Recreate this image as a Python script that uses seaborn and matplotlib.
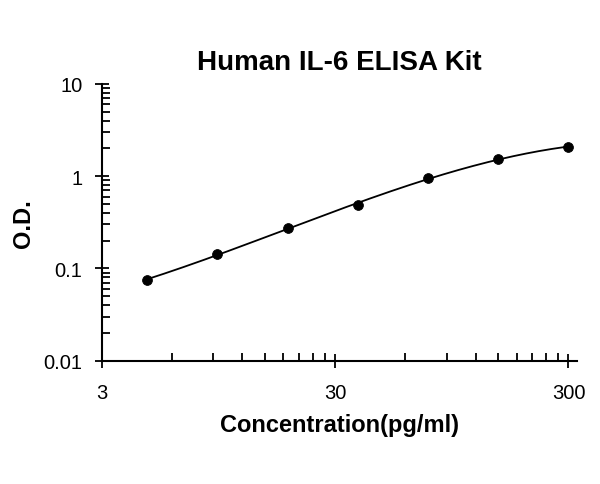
import numpy as np
import pandas as pd
import matplotlib
matplotlib.use("Agg")
import matplotlib.pyplot as plt
import matplotlib.ticker as mticker
import seaborn as sns

# standard curve points
conc = [4.69, 9.38, 18.75, 37.5, 75, 150, 300]
od = [0.076, 0.142, 0.274, 0.49, 0.95, 1.53, 2.08]

title = "Human IL-6 ELISA Kit"
xlabel = "Concentration(pg/ml)"
ylabel = "O.D."
xticks = [3, 30, 300]
yticks = [0.01, 0.1, 1, 10]
ytick_labels = ["0.01", "0.1", "1", "10"]

df = pd.DataFrame({"conc": conc, "od": od})

# smooth fitted curve in log-log space
coef = np.polyfit(np.log10(df["conc"]), np.log10(df["od"]), 3)
lx = np.linspace(np.log10(min(conc)), np.log10(max(conc)), 200)
fit = pd.DataFrame({"conc": 10 ** lx, "od": 10 ** np.polyval(coef, lx)})

sns.set_style("white")
plt.rcParams["font.family"] = ["Liberation Sans", "DejaVu Sans"]
plt.rcParams["text.color"] = "black"
plt.rcParams["axes.labelcolor"] = "black"

fig = plt.figure(figsize=(6, 4.85), dpi=100)
ax = fig.add_axes([0.17, 0.254, 0.792, 0.571])

sns.lineplot(data=fit, x="conc", y="od", color="black", linewidth=1.3, ax=ax)
sns.scatterplot(data=df, x="conc", y="od", color="black", s=50, edgecolor="black", zorder=3, ax=ax)

ax.set_xscale("log")
ax.set_yscale("log")
ax.set_xlim(3, 327)
ax.set_ylim(0.01, 10)

ax.xaxis.set_major_locator(mticker.FixedLocator(xticks))
ax.xaxis.set_major_formatter(mticker.FixedFormatter([str(t) for t in xticks]))
minor_x = [3 * k for k in range(2, 10)] + [30 * k for k in range(2, 10)]
ax.xaxis.set_minor_locator(mticker.FixedLocator(minor_x))
ax.xaxis.set_minor_formatter(mticker.NullFormatter())

ax.yaxis.set_major_locator(mticker.FixedLocator(yticks))
ax.yaxis.set_major_formatter(mticker.FixedFormatter(ytick_labels))
ax.yaxis.set_minor_locator(mticker.LogLocator(base=10, subs=np.arange(2, 10)))
ax.yaxis.set_minor_formatter(mticker.NullFormatter())

ax.tick_params(which="both", bottom=True, left=True, top=False, right=False, colors="black")
ax.tick_params(which="major", direction="inout", length=10, width=1.3, labelsize=14.5)
ax.tick_params(which="minor", direction="in", length=6, width=1.3)
ax.tick_params(axis="x", which="major", pad=11)
ax.tick_params(axis="y", which="major", pad=9)

for s in ["top", "right"]:
    ax.spines[s].set_visible(False)
for s in ["left", "bottom"]:
    ax.spines[s].set_color("black")
    ax.spines[s].set_linewidth(1.5)

ax.set_xlabel(xlabel, fontsize=17, fontweight="bold", labelpad=8, color="black")
ax.set_ylabel(ylabel, fontsize=17, fontweight="bold", labelpad=6, color="black")
ax.set_title(title, fontsize=20, fontweight="bold", pad=11, color="black")

fig.savefig("out.png", dpi=100, facecolor="white")
